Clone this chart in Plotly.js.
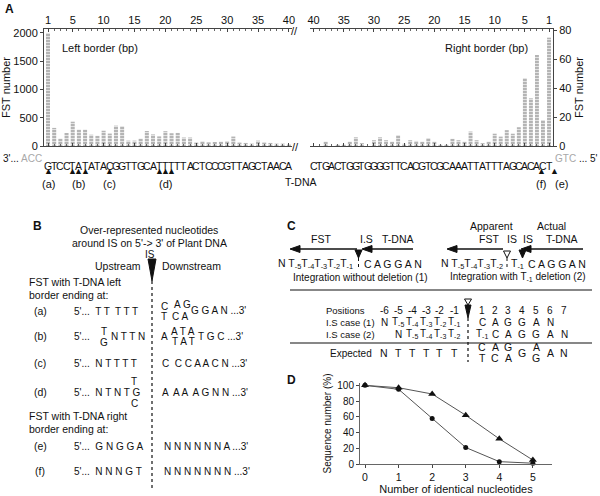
<!DOCTYPE html>
<html>
<head>
<meta charset="utf-8">
<script src="https://cdn.plot.ly/plotly-3.0.1.min.js"></script>
<style>
  html, body { margin: 0; padding: 0; background: #fff; }
  #chart { width: 600px; height: 496px; }
</style>
</head>
<body>
<div id="chart"></div>
<script>
// --- data ---
const bp = [1,2,3,4,5,6,7,8,9,10,11,12,13,14,15,16,17,18,19,20,
            21,22,23,24,25,26,27,28,29,30,31,32,33,34,35,36,37,38,39,40];
const leftCounts = [2000,320,130,230,430,290,290,200,180,270,220,360,350,95,95,130,265,205,170,262,
                    226,232,150,150,60,83,65,71,77,89,167,60,54,42,95,60,54,42,42,36];
const rightCounts = [75,18,63,33,47,13,8.5,11,6.5,8.5,3,2,4,10,3,4,5,1,1,3,
                     5.5,3,3.5,4,1.5,7.5,3,4,6,4,0,2,6,3,1,1,0,3,0,0];
const leftSeq = 'GTCCTATATACGGTTGCATTTTTACTCCCGTTAGCTAACA';   // bp 1 -> 40
const rightSeq = 'CTGACTGGTGGGGTTCACGTCGCAAATTATTTAGCACACT';  // bp 40 -> 1
const leftCuts = [1,5,6,7,11,19,20,21];
const leftCutLabels = ['(a)','(b)','(c)','(d)'];
const leftCutLabelPos = [1,6,11,20];
const bpTicks = [1,5,10,15,20,25,30,35,40];

const identical = [0,1,2,3,4,5];
const seqCircle = [100,95,58,21,3,1];
const seqTriangle = [100,97,89,62,32,5];

// --- helpers (pixel -> paper) ---
const W = 600, H = 496;
const F = 'Liberation Sans, Arial, sans-serif';
const ann = [];
const shapes = [];
function T(x, y, text, anchor, size, extra) {
  ann.push(Object.assign({
    xref: 'paper', yref: 'paper', x: x / W, y: 1 - y / H, text: text,
    showarrow: false, xanchor: anchor || 'left', yanchor: 'middle',
    font: { family: F, size: size || 10, color: '#111' }
  }, extra || {}));
}
function path(pts, fill, line) {
  const d = 'M' + pts.map(p => (p[0] / W) + ',' + (1 - p[1] / H)).join('L') + 'Z';
  shapes.push({ type: 'path', xref: 'paper', yref: 'paper', path: d,
    fillcolor: fill, line: { color: line || '#111', width: 1 } });
}
function seg(x0, y0, x1, y1, w, dash) {
  shapes.push({ type: 'line', xref: 'paper', yref: 'paper',
    x0: x0 / W, y0: 1 - y0 / H, x1: x1 / W, y1: 1 - y1 / H,
    line: { color: '#111', width: w || 1, dash: dash || 'solid' } });
}
const seqFont = { family: 'Liberation Sans Narrow, Liberation Sans, Arial', size: 10.5, color: '#111' };

// --- panel A texts ---
T(3, 9, '<b>A</b>', 'left', 12);
T(60, 48, 'Left border (bp)', 'left', 11);
T(530, 48, 'Right border (bp)', 'right', 11);
T(294, 31, '//', 'center', 11);
T(295, 147, '//', 'center', 11);
T(44, 158, "3'... <span style='color:#a8a8a8'>ACC</span>", 'right', 10);
T(553, 158, "<span style='color:#a8a8a8'>GTC</span> ... 5'", 'left', 10);
leftSeq.split('').forEach((c, i) => ann.push({
  xref: 'x', yref: 'paper', x: bp[i], y: 1 - 158 / H, text: c, showarrow: false, font: seqFont
}));
rightSeq.split('').forEach((c, i) => ann.push({
  xref: 'x2', yref: 'paper', x: bp[39 - i], y: 1 - 158 / H, text: c, showarrow: false, font: seqFont
}));
leftCuts.forEach(p => ann.push({
  xref: 'x', yref: 'paper', x: p, y: 1 - 171 / H, text: '▲', showarrow: false,
  font: { family: F, size: 9, color: '#111' }
}));
leftCutLabels.forEach((t, i) => ann.push({
  xref: 'x', yref: 'paper', x: leftCutLabelPos[i], y: 1 - 184 / H, text: t, showarrow: false,
  font: { family: F, size: 11, color: '#111' }
}));
ann.push({ xref: 'x2', yref: 'paper', x: 2.2, y: 1 - 171 / H, text: '▲', showarrow: false,
  font: { family: F, size: 9, color: '#111' } });
ann.push({ xref: 'x2', yref: 'paper', x: 2.3, y: 1 - 184 / H, text: '(f)', showarrow: false,
  font: { family: F, size: 11, color: '#111' } });
T(554, 171, '▲', 'center', 9);
T(561, 184, '(e)', 'center', 11);
T(301, 182, 'T-DNA', 'center', 10.5);

// --- panel B ---
T(31, 226, '<b>B</b>', 'left', 12);
T(149, 230, 'Over-represented nucleotides', 'center', 10.5);
T(149, 243, "around IS on 5'-> 3' of Plant DNA", 'center', 10.5);
T(150, 254, 'IS', 'center', 10);
path([[148, 259], [156, 259], [152, 281]], '#111');
seg(152, 281, 152, 490, 1.2, 'dot');
T(143, 266, 'Upstream', 'right', 10.5);
T(160, 266, 'Downstream', 'left', 10.5);
T(27, 282, 'FST with T-DNA left', 'left', 10.5);
T(27, 295, 'border ending at:', 'left', 10.5);
const rowY = [311, 336, 363, 392, 446, 471];
const rowLab = ['(a)','(b)','(c)','(d)','(e)','(f)'];
rowLab.forEach((t, i) => T(40, rowY[i], t, 'center', 10.5));
// upstream
T(72, 311, "5'...  T T  T T T", 'left', 10);
T(72, 336, "5'...", 'left', 10);
T(104, 331, 'T', 'center', 10); T(104, 342, 'G', 'center', 10);
T(109, 336, 'N T T N', 'left', 10);
T(72, 363, "5'...  N T T T T", 'left', 10);
T(72, 392, "5'...  N T N T G", 'left', 10);
T(134, 381, 'T', 'center', 10); T(134, 403, 'C', 'center', 10);
T(72, 446, "5'...  G N G G A", 'left', 10);
T(72, 471, "5'...  N N N G T", 'left', 10);
// downstream
T(164, 306, 'C', 'center', 10); T(164, 316, 'T', 'center', 10);
T(182, 304, 'A G', 'center', 10); T(180, 316, 'C A', 'center', 10);
T(189, 310, "G G A N ...3'", 'left', 10);
T(164, 336, 'A', 'center', 10);
T(183, 331, 'A T A', 'center', 10); T(183, 341, 'T A T', 'center', 10);
T(196, 336, "T G C ...3'", 'left', 10);
T(160, 363, "C  C C A A C N ...3'", 'left', 10);
T(160, 392, "A  A A  A G N N ...3'", 'left', 10);
T(27, 416, 'FST with T-DNA right', 'left', 10.5);
T(27, 429, 'border ending at:', 'left', 10.5);
T(162, 446, "N N N N N N A ...3'", 'left', 10);
T(162, 471, "N N N N N N N ...3'", 'left', 10);

// --- panel C ---
T(285, 226, '<b>C</b>', 'left', 12);
T(321, 239, 'FST', 'center', 10.5);
T(366, 239, 'I.S', 'center', 10.5);
T(398, 239, 'T-DNA', 'center', 10.5);
seg(296, 249, 357, 249, 1.5);
path([[290, 249], [300, 245.5], [300, 252.5]], '#111');
seg(368, 249, 413, 249, 1.5);
path([[362, 249], [372, 245.5], [372, 252.5]], '#111');
path([[355, 250], [362, 250], [358.5, 258]], '#111');
seg(358.5, 258, 358.5, 269, 1, 'dot');
T(355, 264, 'N T<sub>-5</sub>T<sub>-4</sub>T<sub>-3</sub>T<sub>-2</sub>T<sub>-1</sub>', 'right', 10.5);
T(362, 264, 'C A G G A N', 'left', 10.5);
T(360, 277, 'Integration without deletion (1)', 'center', 10);

T(492, 226, 'Apparent', 'center', 10.5);
T(551, 226, 'Actual', 'center', 10.5);
T(489, 239, 'FST', 'center', 10.5);
T(512, 239, 'IS', 'center', 10.5);
T(528, 239, 'IS', 'center', 10.5);
T(562, 239, 'T-DNA', 'center', 10.5);
seg(453, 249, 503, 249, 1.5);
path([[447, 249], [457, 245.5], [457, 252.5]], '#111');
seg(528, 249, 583, 249, 1.5);
path([[521, 249], [531, 245.5], [531, 252.5]], '#111');
path([[519, 250], [526, 250], [522.5, 258]], '#111');
path([[503.5, 251], [510.5, 251], [507, 258]], '#fff');
seg(507, 258, 507, 269, 1, 'dot');
T(505, 264, 'N T<sub>-5</sub>T<sub>-4</sub>T<sub>-3</sub>T<sub>-2</sub>', 'right', 10.5);
T(509, 264, 'T<sub>-1</sub>', 'left', 10.5);
T(526, 264, 'C A G G A N', 'left', 10.5);
T(518, 277, 'Integration with T<sub>-1</sub> deletion (2)', 'center', 10);
seg(290, 290, 592, 290, 1.2);

const colL = [384, 398, 412, 426, 440, 454];
const colR = [482, 495, 508, 522, 536, 550, 564];
const posL = ['-6','-5','-4','-3','-2','-1'];
const posR = ['1','2','3','4','5','6','7'];
const case1L = ['N','T<sub>-5</sub>','T<sub>-4</sub>','T<sub>-3</sub>','T<sub>-2</sub>','T<sub>-1</sub>'];
const case1R = ['C','A','G','G','A','N'];
const case2L = ['N','T<sub>-5</sub>','T<sub>-4</sub>','T<sub>-3</sub>','T<sub>-2</sub>'];
const case2R = ['T<sub>-1</sub>','C','A','G','G','A','N'];
const expL = ['N','T','T','T','T','T'];
T(324, 310, 'Positions', 'left', 9.5);
T(324, 322, 'I.S case (1)', 'left', 9.5);
T(324, 334, 'I.S case (2)', 'left', 9.5);
T(328, 353, 'Expected', 'left', 10);
posL.forEach((t, i) => T(colL[i], 310, t, 'center', 10));
posR.forEach((t, i) => T(colR[i], 310, t, 'center', 10));
case1L.forEach((t, i) => T(colL[i], 322, t, 'center', 10));
case1R.forEach((t, i) => T(colR[i], 322, t, 'center', 10));
case2L.forEach((t, i) => T(colL[i + 1], 334, t, 'center', 10));
case2R.forEach((t, i) => T(colR[i], 334, t, 'center', 10));
expL.forEach((t, i) => T(colL[i], 353, t, 'center', 10.5));
['C','A','G'].forEach((t, i) => T(colR[i], 347, t, 'center', 10.5));
['T','C','A'].forEach((t, i) => T(colR[i], 358, t, 'center', 10.5));
T(colR[3], 353, 'G', 'center', 10.5);
T(colR[4], 347, 'A', 'center', 10.5);
T(colR[4], 358, 'G', 'center', 10.5);
T(colR[5], 353, 'A', 'center', 10.5);
T(colR[6], 353, 'N', 'center', 10.5);
path([[464.5, 299], [471.5, 299], [468, 305]], '#fff');
path([[465, 305], [471, 305], [468, 318]], '#111');
seg(468, 318, 468, 362, 1.2, 'dot');
seg(290, 343, 592, 343, 1.2);

// --- panel D ---
T(285, 380, '<b>D</b>', 'left', 12);

const barStyle = {
  color: '#b4b4b4',
  pattern: { shape: '-', bgcolor: '#b4b4b4', fgcolor: '#e2e2e2', size: 3, solidity: 0.35 },
  line: { width: 0 }
};

const traces = [
  { type: 'bar', x: bp, y: leftCounts, xaxis: 'x', yaxis: 'y', marker: barStyle, hoverinfo: 'x+y' },
  { type: 'bar', x: bp, y: rightCounts, xaxis: 'x2', yaxis: 'y2', marker: barStyle, hoverinfo: 'x+y' },
  { type: 'scatter', mode: 'lines+markers', x: identical, y: seqTriangle, xaxis: 'x3', yaxis: 'y3',
    line: { color: '#555', width: 1 }, marker: { symbol: 'triangle-up', size: 7, color: '#111' }, cliponaxis: false },
  { type: 'scatter', mode: 'lines+markers', x: identical, y: seqCircle, xaxis: 'x3', yaxis: 'y3',
    line: { color: '#555', width: 1 }, marker: { symbol: 'circle', size: 5, color: '#111' }, cliponaxis: false }
];

const tick = { family: F, size: 11, color: '#111' };
const bpAxis = {
  side: 'top', tickvals: bpTicks, ticks: 'inside', ticklen: 3, tickcolor: '#444',
  showline: true, linecolor: '#444', linewidth: 1, mirror: 'ticks',
  minor: { dtick: 1, tick0: 0, ticks: 'inside', ticklen: 2, tickcolor: '#666' },
  showgrid: false, zeroline: false, tickfont: tick, fixedrange: true
};
const yDom = [1 - 146 / H, 1 - 29 / H];

const layout = {
  width: W, height: H, margin: { l: 0, r: 0, t: 0, b: 0 },
  paper_bgcolor: '#fff', plot_bgcolor: 'rgba(0,0,0,0)',
  showlegend: false, bargap: 0.35,
  font: { family: F, color: '#111' },
  xaxis: Object.assign({}, bpAxis, { domain: [44 / W, 292 / W], range: [0.35, 40.5], anchor: 'y' }),
  xaxis2: Object.assign({}, bpAxis, { domain: [310 / W, 553 / W], range: [40.6, 0.34], anchor: 'y2' }),
  yaxis: {
    domain: yDom, range: [0, 2070], anchor: 'x', tickvals: [0, 500, 1000, 1500, 2000],
    ticks: 'outside', ticklen: 3, showline: true, linecolor: '#444', showgrid: false, zeroline: false,
    tickfont: tick, title: { text: 'FST number', font: { family: F, size: 11 }, standoff: 4 }
  },
  yaxis2: {
    domain: yDom, range: [0, 81], anchor: 'x2', side: 'right', tickvals: [0, 20, 40, 60, 80],
    ticks: 'outside', ticklen: 3, showline: true, linecolor: '#444', showgrid: false, zeroline: false,
    tickfont: tick, title: { text: 'FST number', font: { family: F, size: 11 }, standoff: 4 }
  },
  xaxis3: {
    domain: [360 / W, 552 / W], range: [-0.15, 5.57], anchor: 'y3', tickvals: identical,
    ticks: 'outside', ticklen: 3, showline: true, linecolor: '#666', showgrid: false, zeroline: false,
    tickfont: { family: F, size: 10.5, color: '#111' },
    title: { text: 'Number of identical nucleotides', font: { family: F, size: 11 }, standoff: 3 }
  },
  yaxis3: {
    domain: [1 - 464 / H, 1 - 383 / H], range: [0, 103], anchor: 'x3', tickvals: [0, 20, 40, 60, 80, 100],
    ticks: 'outside', ticklen: 3, showline: true, linecolor: '#666', showgrid: false, zeroline: false,
    tickfont: { family: F, size: 10, color: '#111' },
    title: { text: 'Sequence number (%)', font: { family: F, size: 10 }, standoff: 3 }
  },
  annotations: ann,
  shapes: shapes
};

Plotly.newPlot('chart', traces, layout, { displayModeBar: false, staticPlot: true });
</script>
</body>
</html>
